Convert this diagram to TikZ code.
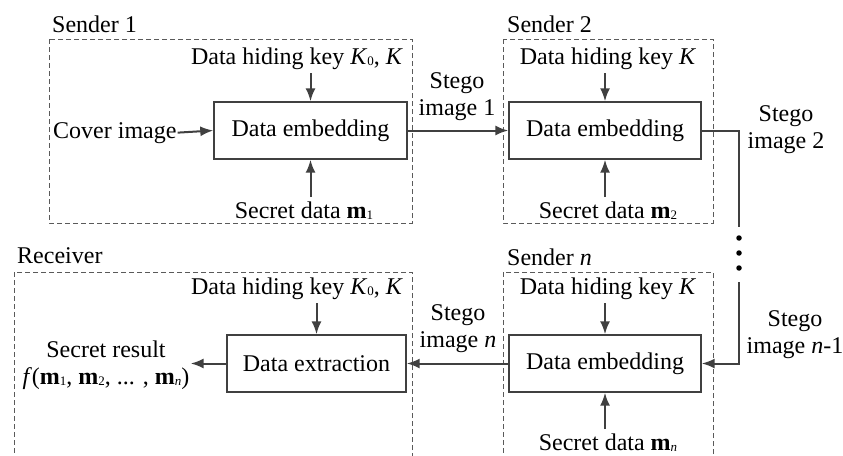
\documentclass[tikz,border=0pt]{standalone}
\usepackage{fontspec}
\setmainfont{Liberation Serif}
\usetikzlibrary{arrows.meta}

% small lowered index used for K_0, m_1 ...
\newcommand{\lowidx}[1]{\raisebox{-1.5pt}{\fontsize{13}{13}\selectfont #1}}

\definecolor{linegray}{HTML}{404040}
\definecolor{framegray}{HTML}{5A5A5A}

\tikzset{
  txt/.style={font=\fontsize{24}{27}\selectfont, inner xsep=1pt, inner ysep=4pt},
  proc/.style={draw=linegray, line width=1.4pt, minimum height=57pt,
               font=\fontsize{24}{27}\selectfont, inner sep=0pt},
  frame/.style={draw=framegray, line width=0.9pt, dash pattern=on 5pt off 3pt},
  conn/.style={draw=linegray, line width=2pt},
  arr/.style={conn, -{Latex[length=13pt,width=10pt]}},
  dotmark/.style={circle, fill=black, inner sep=0pt, minimum size=5.5pt}
}

\begin{document}
\begin{tikzpicture}[x=1pt, y=-1pt]
\useasboundingbox (0,0) rectangle (843,455);
\fill[white] (0,0) rectangle (843,455);

% dashed frames of the parties
\begin{scope}
  \clip (0,0) rectangle (843,455);
  \draw[frame] (49,39) rectangle (412,223);
  \draw[frame] (503,39) rectangle (713,223);
  \draw[frame] (14,272) rectangle (412,470);
  \draw[frame] (503,272) rectangle (713,470);
\end{scope}

% ---------- Sender 1 ----------
\node[txt, anchor=base west] (lab1) at (51,32) {Sender 1};
\node[proc, minimum width=193pt] (emb1) at (310.5,130.5) {Data embedding};
\node[txt, anchor=base] (key1) at (297,64) {Data hiding key \textit{K}\lowidx{0}, \textit{K}};
\node[txt, anchor=base west] (cover) at (52,138) {Cover image};
\node[txt, anchor=base] (sec1) at (304,218) {Secret data \textbf{m}\lowidx{1}};
\draw[arr] (key1.south -| emb1) -- (emb1.north);
\draw[arr] (sec1.north -| emb1) -- (emb1.south);
\draw[arr] (cover.east) -- (emb1.west);

% ---------- Sender 2 ----------
\node[txt, anchor=base west] (lab2) at (506,32) {Sender 2};
\node[proc, minimum width=192pt] (emb2) at (605,130.5) {Data embedding};
\node[txt, anchor=base] (key2) at (608,64) {Data hiding key \textit{K}};
\node[txt, anchor=base] (sec2) at (608,218) {Secret data \textbf{m}\lowidx{2}};
\draw[arr] (key2.south -| emb2) -- (emb2.north);
\draw[arr] (sec2.north -| emb2) -- (emb2.south);

\node[txt, align=center] (st1) at (457,97) {Stego\\image 1};
\draw[arr] (emb1.east) -- (emb2.west);

% ---------- chain of senders ----------
\node[txt, align=center] (st2) at (786,130) {Stego\\image 2};
\coordinate (up2) at (739,227);
\draw[conn] (emb2.east) -| (up2);
\node[dotmark] (d1) at (739,238) {};
\node[dotmark] (d2) at (739,253) {};
\node[dotmark] (d3) at (739,268) {};
\coordinate (dn2) at (739,282);

% ---------- Sender n ----------
\node[txt, anchor=base west] (labn) at (506,265) {Sender \textit{n}};
\node[proc, minimum width=192pt] (embn) at (605,363.5) {Data embedding};
\node[txt, anchor=base] (keyn) at (608,294) {Data hiding key \textit{K}};
\node[txt, anchor=base] (secn) at (608,450) {Secret data \textbf{m}\lowidx{\textit{n}}};
\draw[arr] (keyn.south -| embn) -- (embn.north);
\draw[arr] (secn.north -| embn) -- (embn.south);

\node[txt, align=center] (stn1) at (795,335) {Stego\\image \textit{n}-1};
\draw[arr] (dn2) |- (embn.east);

% ---------- Receiver ----------
\node[txt, anchor=base west] (labr) at (16,263) {Receiver};
\node[proc, minimum width=179pt] (ext) at (316.5,363.5) {Data extraction};
\node[txt, anchor=base] (keyr) at (297,294) {Data hiding key \textit{K}\lowidx{0}, \textit{K}};
\draw[arr] (keyr.south -| ext) -- (ext.north);

\node[txt, align=center] (stn) at (458,329) {Stego\\image \textit{n}};
\draw[arr] (embn.west) -- (ext.east);

\node[txt, align=center] (res) at (106,365)
  {Secret result\\\textit{f}(\textbf{m}\lowidx{1}, \textbf{m}\lowidx{2}, ... , \textbf{m}\lowidx{\textit{n}})};
\draw[arr] (ext.west) -- (res.east |- ext.west);
\end{tikzpicture}
\end{document}
